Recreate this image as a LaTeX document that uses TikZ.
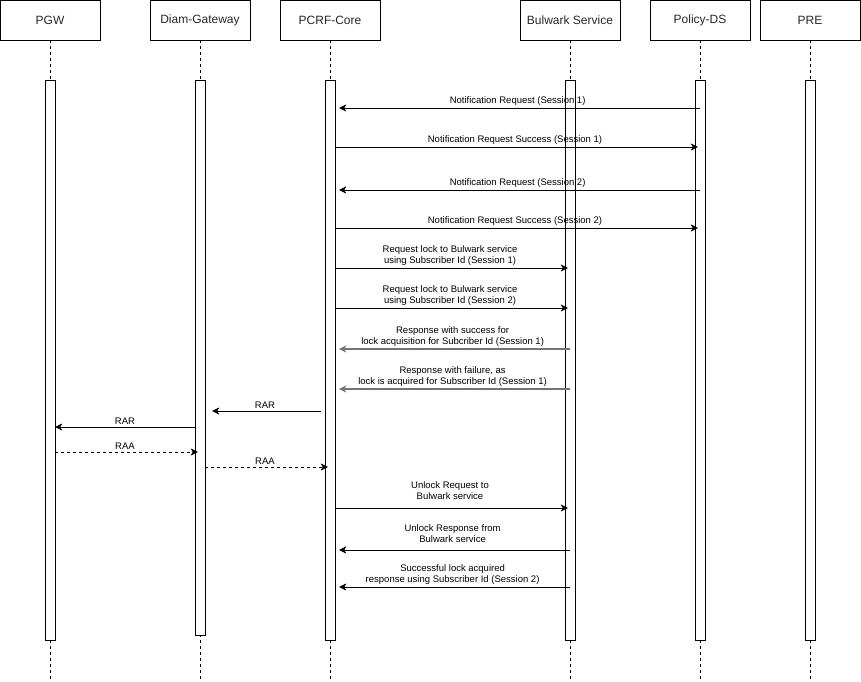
\documentclass[tikz,border=0pt]{standalone}
\usepackage{fontspec}
\setmainfont{Liberation Sans}
\usetikzlibrary{arrows.meta}

\begin{document}
\begin{tikzpicture}[x=1pt,y=-1pt,
  head/.style={draw,minimum width=100pt,minimum height=40pt,inner sep=0pt,text=black!85,font=\fontsize{12}{14}\selectfont},
  bar/.style={draw,fill=white,minimum width=10pt,inner sep=0pt,anchor=north},
  msg/.style={-{Stealth[length=7pt,width=7pt,inset=2pt]}},
  msgr/.style={msg,shorten >=-3pt},
  msgl/.style={msg,shorten >=4pt},
  msgg/.style={msgl,draw=black!55,line width=1.3pt},
  lbl/.style={above,inner sep=2pt,align=center,font=\fontsize{9.5}{11}\selectfont}
]
%\draw[gray] (0,0) grid[step=50] (861,681);
\useasboundingbox (0,0) rectangle (861,681);

% lifelines
\foreach \n/\x/\t/\h in {pgw/50/PGW/560,diam/200/Diam-Gateway/555,pcrf/330/PCRF-Core/560,bul/570/Bulwark Service/560,pds/700/Policy-DS/560,pre/810/PRE/560}{
\node[head] (\n) at (\x,20) {\t};
\draw[dash pattern=on 3pt off 3pt] (\n.south) -- (\x,681);
\node[bar,minimum height=\h pt] (bar-\n) at (\x,80) {};
}

% messages
\foreach \y/\a/\b/\s/\u/\t in {
108/bar-pds.center/bar-pcrf.east/msgl/0/{Notification Request (Session 1)},
147/bar-pcrf.east/bar-pds.west/msgr/0/{Notification Request Success (Session 1)},
190/bar-pds.center/bar-pcrf.east/msgl/0/{Notification Request (Session 2)},
228/bar-pcrf.east/bar-pds.west/msgr/0/{Notification Request Success (Session 2)},
268/bar-pcrf.east/bar-bul.west/msgr/0/{Request lock to Bulwark service\\using Subscriber Id (Session 1)},
308/bar-pcrf.east/bar-bul.west/msgr/0/{Request lock to Bulwark service\\using Subscriber Id (Session 2)},
349/bar-bul.center/bar-pcrf.east/msgg/0/{Response with success for\\lock acquisition for Subcriber Id (Session 1)},
389/bar-bul.center/bar-pcrf.east/msgg/0/{Response with failure, as\\lock is acquired for Subscriber Id (Session 1)},
427/bar-diam.west/bar-pgw.east/msg/0/{RAR},
508/bar-pcrf.east/bar-bul.west/msgr/6/{Unlock Request to\\Bulwark service},
550/bar-bul.center/bar-pcrf.east/msgl/5/{Unlock Response from\\Bulwark service},
587/bar-bul.center/bar-pcrf.east/msgl/0/{Successful lock acquired\\response using Subscriber Id (Session 2)}}{
\draw[\s] (\a |- 0,\y) -- node[lbl,yshift=\u pt] {\t} (\b |- 0,\y);
}
\draw[msg,shorten <=4pt,shorten >=7pt] (bar-pcrf.west |- 0,411) -- node[lbl] {RAR} (bar-diam.east |- 0,411);

% answers
\draw[msgr,dashed] (bar-pgw.east |- 0,452) -- node[lbl] {RAA} (bar-diam.west |- 0,452);
\draw[msgr,dashed] (bar-diam.east |- 0,467) -- node[lbl] {RAA} (bar-pcrf.west |- 0,467);

\end{tikzpicture}
\end{document}
